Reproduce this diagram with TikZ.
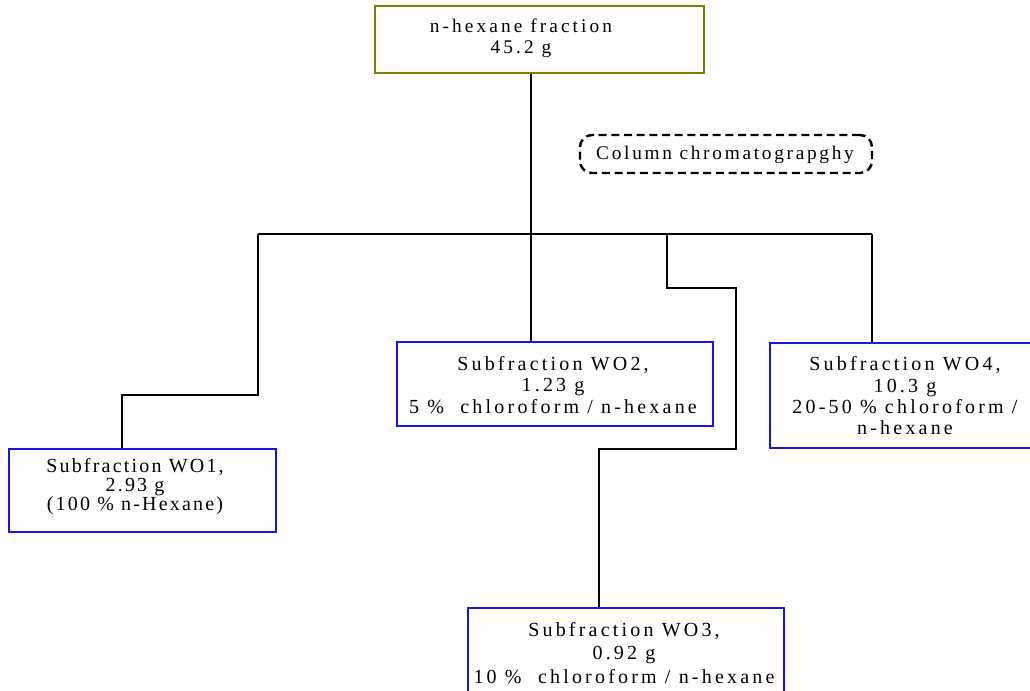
\documentclass[tikz,border=0pt]{standalone}
\usepackage{fontspec}
\setmainfont{Liberation Serif}
\newfontfamily\widefont[LetterSpace=16]{Liberation Serif}
\newfontfamily\narrowfont[LetterSpace=11]{Liberation Serif}
\newfontfamily\topfont[LetterSpace=16]{Liberation Serif}
\newfontfamily\colfont[LetterSpace=14]{Liberation Serif}
\usetikzlibrary{fit}
\definecolor{boxolive}{RGB}{128,128,0}
\definecolor{boxblue}{RGB}{20,20,230}
\begin{document}
\begin{tikzpicture}[x=0.75pt,y=-0.75pt,
  bluebox/.style={draw=boxblue, line width=2pt, inner sep=0pt},
  olivebox/.style={draw=boxolive, line width=2pt, inner sep=0pt},
  dashbox/.style={draw=black, line width=1.8pt, dash pattern=on 6pt off 3.5pt, rounded corners=9pt, inner sep=0pt},
  conn/.style={draw=black, line width=1.5pt},
  txt/.style={align=center, inner sep=0pt, font=\widefont\fontsize{15}{16}\selectfont},
  toptxt/.style={align=center, inner sep=0pt, font=\topfont\fontsize{14.5}{15.5}\selectfont}]
\useasboundingbox (0,0) rectangle (1030,691);
\fill[white] (0,0) rectangle (1030,691);

% boxes
\node[olivebox, fit={(375,6) (704,73)}] (top) {};
\node[dashbox, fit={(580,135) (872,173)}] (col) {};
\node[bluebox, fit={(9,449) (276,532)}] (wo1) {};
\node[bluebox, fit={(397,342) (713,426)}] (wo2) {};
\node[bluebox, fit={(468,608) (784,700)}] (wo3) {};
\node[bluebox, fit={(770,343) (1040,448)}] (wo4) {};

% texts
\node[toptxt] (topt) at (521,38) {n-hexane fraction\\45.2 g};
\node[toptxt, font=\colfont\fontsize{14.5}{17}\selectfont] (colt) at (725,155) {Column chromatograpghy};
\node[txt, font=\narrowfont\fontsize{15}{14.2}\selectfont] (wo1t) at (135,487) {Subfraction WO1,\\2.93 g\\(100 \% n-Hexane)};
\node[txt] (wo2t) at (553,385) {Subfraction WO2,\\1.23 g\\5 \%\ \ chloroform / n-hexane};
\node[txt, font=\widefont\fontsize{15}{17.5}\selectfont] (wo3t) at (624,653) {Subfraction WO3,\\0.92 g\\10 \%\ \ chloroform / n-hexane};
\node[txt] (wo4t) at (905,396) {Subfraction WO4,\\10.3 g\\20-50 \% chloroform /\\n-hexane};

% connectors
\coordinate (busc) at (531,234);
\coordinate (b1) at (258,234);
\coordinate (b3) at (667,234);
\coordinate (b4) at (872,234);
\coordinate (k1) at (122,395);
\coordinate (k3a) at (736,288);
\coordinate (k3b) at (599,449);
\draw[conn] (top.south -| busc) -- (busc);
\draw[conn] (b1) -- (b4);
\draw[conn] (b1) |- (k1) -- (k1 |- wo1.north);
\draw[conn] (busc) -- (busc |- wo2.north);
\draw[conn] (b3) |- (k3a) |- (k3b) -- (k3b |- wo3.north);
\draw[conn] (b4) -- (b4 |- wo4.north);
\end{tikzpicture}
\end{document}
